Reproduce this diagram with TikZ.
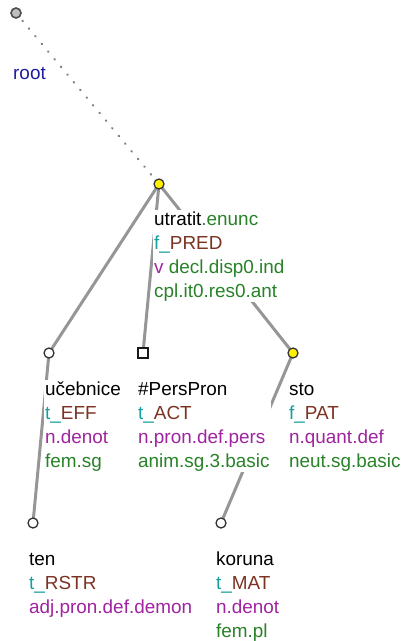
\documentclass[tikz,border=0pt]{standalone}
\usepackage{fontspec}
\setmainfont{Liberation Sans}
\usetikzlibrary{backgrounds}
\definecolor{grn}{RGB}{40,130,40}
\definecolor{tl}{RGB}{20,160,160}
\definecolor{brn}{RGB}{125,50,35}
\definecolor{pur}{RGB}{160,35,160}
\definecolor{blu}{RGB}{30,30,160}
\definecolor{edgegray}{RGB}{150,150,150}
\tikzset{
  tnode/.style={circle, draw=black!80, line width=1.3pt, minimum size=10pt, inner sep=0pt, fill=white},
  ynode/.style={tnode, fill=yellow},
  rnode/.style={tnode, fill=black!25, draw=black!70, line width=1.6pt},
  snode/.style={rectangle, draw=black!90, line width=1.2pt, minimum size=10pt, inner sep=0pt, fill=white},
  lab/.style={anchor=base west, inner sep=1pt, fill=white, font=\fontsize{18.9}{24}\selectfont},
  edge/.style={draw=edgegray, line width=3pt},
  rootedge/.style={draw=black!50, line width=2.2pt, line cap=round, dash pattern=on 0.6pt off 9.4pt}
}
\newcommand{\lines}[1]{\vtop{\baselineskip=24pt\lineskiplimit=-20pt #1}}
\begin{document}
\begin{tikzpicture}[x=1pt,y=-1pt]
\useasboundingbox (0,0) rectangle (402,641);
% tree nodes
\node[rnode] (root) at (16,13) {};
\node[ynode] (utratit) at (159,184) {};
\node[tnode] (ucebnice) at (49,353) {};
\node[snode] (perspron) at (143,353) {};
\node[ynode] (sto) at (293,353) {};
\node[tnode] (ten) at (33,523) {};
\node[tnode] (koruna) at (221,523) {};
% edges
\begin{scope}[on background layer]
\draw[rootedge] (root.center) -- (utratit.center);
\draw[edge] (utratit.center) -- (ucebnice.center);
\draw[edge] (utratit.center) -- (perspron.center);
\draw[edge] (utratit.center) -- (sto.center);
\draw[edge] (ucebnice.center) -- (ten.center);
\draw[edge] (sto.center) -- (koruna.center);
\end{scope}
% labels
\node[lab] (rootL) at (12,79) {\textcolor{blu}{root}};
\node[lab] (utratitL) at (153,225) {\lines{\hbox{utratit\textcolor{grn}{.enunc}}\hbox{\textcolor{tl}{f\_}\textcolor{brn}{PRED}}\hbox{\textcolor{pur}{v} \textcolor{grn}{decl.disp0.ind}}\hbox{\textcolor{grn}{cpl.it0.res0.ant}}}};
\node[lab] (ucebniceL) at (44,395) {\lines{\hbox{učebnice}\hbox{\textcolor{tl}{t\_}\textcolor{brn}{EFF}}\hbox{\textcolor{pur}{n.denot}}\hbox{\textcolor{grn}{fem.sg}}}};
\node[lab] (persL) at (137,395) {\lines{\hbox{\#PersPron}\hbox{\textcolor{tl}{t\_}\textcolor{brn}{ACT}}\hbox{\textcolor{pur}{n.pron.def.pers}}\hbox{\textcolor{grn}{anim.sg.3.basic}}}};
\node[lab] (stoL) at (288,395) {\lines{\hbox{sto}\hbox{\textcolor{tl}{f\_}\textcolor{brn}{PAT}}\hbox{\textcolor{pur}{n.quant.def}}\hbox{\textcolor{grn}{neut.sg.basic}}}};
\node[lab] (tenL) at (28,565) {\lines{\hbox{ten}\hbox{\textcolor{tl}{t\_}\textcolor{brn}{RSTR}}\hbox{\textcolor{pur}{adj.pron.def.demon}}}};
\node[lab] (korunaL) at (215,565) {\lines{\hbox{koruna}\hbox{\textcolor{tl}{t\_}\textcolor{brn}{MAT}}\hbox{\textcolor{pur}{n.denot}}\hbox{\textcolor{grn}{fem.pl}}}};
\end{tikzpicture}
\end{document}
